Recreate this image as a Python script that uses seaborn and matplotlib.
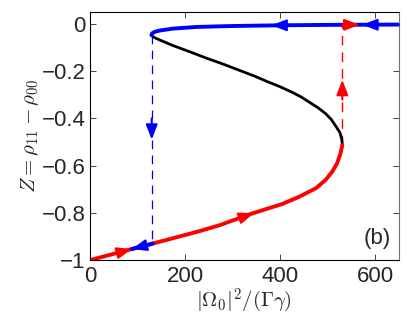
import matplotlib
matplotlib.use("Agg")
import matplotlib.pyplot as plt
import seaborn as sns
import pandas as pd

# lower (stable) branch
low_x = [0, 88, 160, 231, 273, 336, 405, 440, 476, 496, 510, 520, 527, 531]
low_z = [-1.0, -0.953, -0.915, -0.877, -0.852, -0.806, -0.762, -0.732, -0.695, -0.66, -0.625, -0.59, -0.55, -0.513]

# middle (unstable) branch
mid_x = [531, 530, 526, 518, 508, 496, 480, 462, 445, 426, 400, 374, 345, 315,
         280, 245, 210, 175, 155, 142, 134, 130, 129.3]
mid_z = [-0.513, -0.49, -0.46, -0.435, -0.405, -0.38, -0.355, -0.332, -0.31, -0.29, -0.266, -0.245, -0.22, -0.197,
         -0.17, -0.145, -0.118, -0.092, -0.075, -0.064, -0.056, -0.05, -0.047]

# upper (stable) branch
up_x = [129.3, 131, 136, 147, 175, 224, 300, 400, 520, 650]
up_z = [-0.047, -0.040, -0.034, -0.028, -0.020, -0.013, -0.009, -0.006, -0.004, -0.003]

# jumps
jump_up_x = 531
jump_up_z = [-0.513, -0.005]
jump_down_x = 130
jump_down_z = [-0.047, -0.93]

# arrows: (tail, tip, colour)
arrows = [
    ((40, -0.979), (88, -0.953), "red"),
    ((315, -0.822), (345, -0.801), "red"),
    ((132, -0.93), (88, -0.953), "blue"),
    ((531, -0.32), (531, -0.237), "red"),
    ((130, -0.40), (130, -0.49), "blue"),
    ((531, -0.004), (567, -0.004), "red"),
    ((650, -0.003), (573, -0.004), "blue"),
    ((410, -0.006), (382, -0.006), "blue"),
]

xticks = [0, 200, 400, 600]
yticks = [-1, -0.8, -0.6, -0.4, -0.2, 0]
yticklabels = ["\u22121", "\u22120.8", "\u22120.6", "\u22120.4", "\u22120.2", "0"]

sns.set_style("ticks")
plt.rcParams["font.family"] = ["Liberation Sans", "DejaVu Sans"]
plt.rcParams["mathtext.fontset"] = "cm"

fig = plt.figure(figsize=(4.07, 3.26), dpi=100)
ax = fig.add_axes([0.221, 0.202, 0.759, 0.761])

ax.plot([jump_up_x, jump_up_x], jump_up_z, color="red", lw=1.0, dashes=(7, 5))
ax.plot([jump_down_x, jump_down_x], jump_down_z, color="blue", lw=0.9, dashes=(7, 5))

low = pd.DataFrame({"x": low_x, "z": low_z})
mid = pd.DataFrame({"x": mid_x, "z": mid_z})
up = pd.DataFrame({"x": up_x, "z": up_z})
sns.lineplot(data=mid, x="x", y="z", sort=False, color="black", lw=2.0, ax=ax)
sns.lineplot(data=low, x="x", y="z", sort=False, color="red", lw=2.8, ax=ax)
sns.lineplot(data=up, x="x", y="z", sort=False, color="blue", lw=2.8, ax=ax)
ax.plot([132, 88], [-0.93, -0.953], color="blue", lw=2.8)

for tail, tip, c in arrows:
    ax.annotate("", xy=tip, xytext=tail,
                arrowprops=dict(arrowstyle="-|>,head_length=0.9,head_width=0.35",
                                color=c, lw=1.5, shrinkA=0, shrinkB=0))

ax.set_xlim(0, 650)
ax.set_ylim(-1, 0.05)
ax.set_xticks(xticks)
ax.set_yticks(yticks)
ax.set_yticklabels(yticklabels)
ax.tick_params(direction="in", top=True, right=True, labelsize=16, length=4, width=0.6, pad=3)
ax.tick_params(axis="x", pad=4)
for s in ax.spines.values():
    s.set_linewidth(0.8)
    s.set_color("black")
ax.spines["right"].set_color("0.45")
ax.set_xlabel(r"$|\Omega_0|^2/(\Gamma\gamma)$", fontsize=15, labelpad=0)
ax.set_ylabel(r"$Z=\rho_{11}-\rho_{00}$", fontsize=15, labelpad=1)
ax.text(0.975, 0.045, "(b)", transform=ax.transAxes, ha="right", va="bottom", fontsize=16)

fig.savefig("out.png", dpi=100)
